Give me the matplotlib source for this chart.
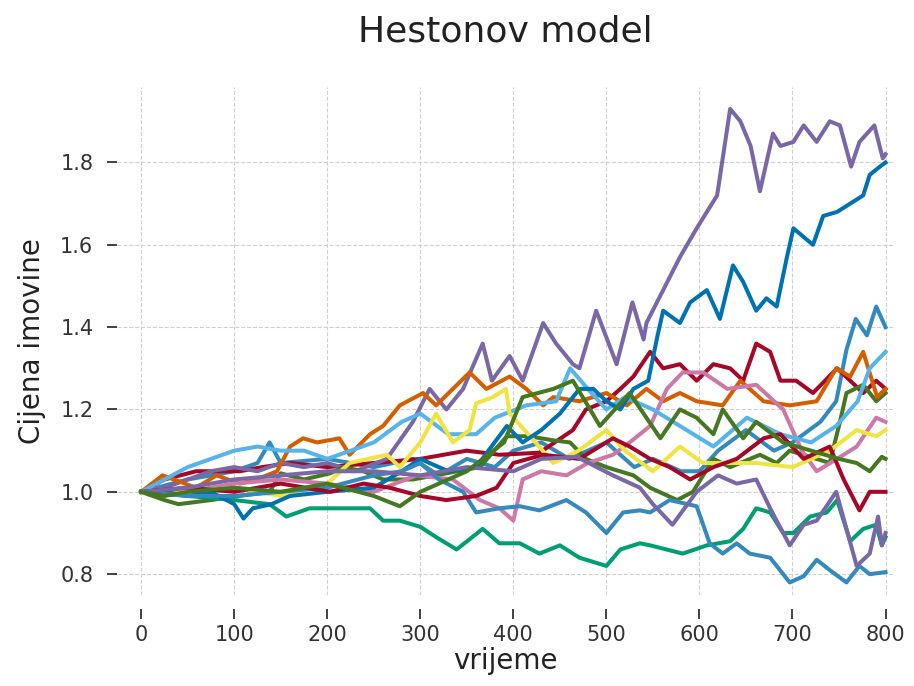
import matplotlib
matplotlib.use("Agg")
from matplotlib import pyplot as plt

# price paths: (time step, asset price)
blue1_t = [0, 50, 100, 125, 138, 150, 200, 250, 292, 320, 350, 380, 400, 430, 460, 500, 530, 550, 580, 600, 620, 650, 680, 700, 730, 747, 758, 768, 780, 790, 800]
blue1_v = [1.0, 1.03, 1.05, 1.07, 1.12, 1.07, 1.08, 1.06, 1.08, 1.04, 1.08, 1.06, 1.10, 1.12, 1.08, 1.12, 1.06, 1.08, 1.05, 1.05, 1.10, 1.15, 1.10, 1.12, 1.17, 1.22, 1.345, 1.42, 1.38, 1.45, 1.40]

red1_t = [0, 25, 59, 89, 106, 130, 160, 200, 250, 300, 350, 385, 428, 464, 478, 500, 515, 529, 547, 561, 579, 597, 615, 633, 647, 661, 676, 687, 704, 722, 748, 776, 790, 800]
red1_v = [1.0, 1.03, 1.05, 1.05, 1.05, 1.06, 1.07, 1.06, 1.07, 1.08, 1.10, 1.09, 1.095, 1.15, 1.20, 1.22, 1.25, 1.28, 1.34, 1.30, 1.31, 1.27, 1.31, 1.30, 1.27, 1.36, 1.34, 1.27, 1.27, 1.24, 1.30, 1.24, 1.27, 1.25]

purple1_t = [0, 25, 50, 75, 100, 125, 150, 175, 200, 230, 264, 292, 310, 328, 346, 367, 377, 396, 410, 432, 446, 464, 471, 489, 511, 528, 540, 543, 561, 579, 597, 619, 633, 644, 655, 665, 672, 679, 687, 701, 712, 726, 740, 751, 763, 772, 788, 797, 800]
purple1_v = [1.0, 1.01, 1.03, 1.05, 1.06, 1.05, 1.07, 1.06, 1.07, 1.05, 1.08, 1.17, 1.25, 1.20, 1.25, 1.36, 1.27, 1.33, 1.27, 1.41, 1.36, 1.31, 1.30, 1.44, 1.31, 1.46, 1.37, 1.41, 1.49, 1.57, 1.64, 1.72, 1.93, 1.90, 1.84, 1.73, 1.80, 1.87, 1.84, 1.85, 1.89, 1.85, 1.90, 1.89, 1.79, 1.85, 1.89, 1.81, 1.82]

greenA_t = [0, 25, 40, 75, 105, 138, 150, 175, 203, 217, 239, 260, 292, 328, 364, 393, 417, 443, 461, 478, 500, 529, 547, 576, 593, 615, 633, 665, 683, 697, 726, 740, 751, 758, 776, 790, 800]
greenA_v = [1.0, 0.98, 0.97, 0.98, 0.99, 1.0, 1.045, 1.03, 1.045, 1.06, 1.05, 1.03, 1.03, 1.045, 1.06, 1.135, 1.135, 1.125, 1.12, 1.08, 1.06, 1.04, 1.01, 0.98, 1.0, 1.08, 1.06, 1.09, 1.07, 1.10, 1.08, 1.07, 1.17, 1.24, 1.26, 1.22, 1.24]

orange_t = [0, 23, 59, 81, 106, 124, 146, 160, 174, 189, 213, 224, 246, 260, 278, 303, 317, 335, 353, 371, 396, 414, 432, 443, 471, 500, 522, 543, 561, 579, 597, 625, 644, 669, 697, 726, 747, 762, 776, 791, 800]
orange_v = [1.0, 1.04, 1.01, 1.04, 1.02, 1.03, 1.05, 1.11, 1.13, 1.12, 1.13, 1.09, 1.14, 1.16, 1.21, 1.24, 1.21, 1.25, 1.29, 1.25, 1.28, 1.25, 1.21, 1.23, 1.22, 1.24, 1.21, 1.25, 1.22, 1.24, 1.22, 1.21, 1.27, 1.22, 1.21, 1.22, 1.30, 1.28, 1.34, 1.23, 1.25]

pink_t = [0, 50, 100, 150, 200, 250, 296, 335, 364, 385, 400, 410, 430, 457, 480, 507, 525, 547, 565, 582, 604, 630, 661, 690, 710, 726, 755, 769, 790, 800]
pink_v = [1.0, 1.0, 1.02, 1.03, 1.02, 1.0, 1.04, 1.03, 0.98, 0.96, 0.93, 1.03, 1.05, 1.04, 1.07, 1.09, 1.12, 1.16, 1.25, 1.29, 1.29, 1.25, 1.26, 1.20, 1.10, 1.05, 1.09, 1.11, 1.18, 1.17]

lightblue_t = [0, 25, 50, 75, 100, 125, 150, 175, 200, 250, 280, 300, 330, 360, 380, 414, 446, 461, 480, 500, 520, 550, 579, 615, 651, 687, 720, 747, 770, 783, 800]
lightblue_v = [1.0, 1.03, 1.06, 1.08, 1.10, 1.11, 1.10, 1.10, 1.08, 1.12, 1.17, 1.19, 1.14, 1.14, 1.18, 1.21, 1.22, 1.30, 1.25, 1.20, 1.23, 1.20, 1.16, 1.11, 1.18, 1.14, 1.12, 1.16, 1.22, 1.30, 1.34]

teal_t = [0, 50, 100, 138, 156, 181, 217, 246, 260, 278, 300, 317, 339, 367, 385, 407, 428, 450, 471, 500, 515, 536, 547, 582, 608, 633, 647, 661, 676, 690, 701, 719, 737, 748, 762, 776, 790, 796, 800]
teal_v = [1.0, 0.99, 0.98, 0.97, 0.94, 0.96, 0.96, 0.96, 0.93, 0.93, 0.915, 0.89, 0.86, 0.91, 0.875, 0.875, 0.85, 0.87, 0.84, 0.82, 0.86, 0.875, 0.87, 0.85, 0.87, 0.88, 0.91, 0.96, 0.95, 0.90, 0.90, 0.94, 0.95, 0.98, 0.88, 0.91, 0.92, 0.87, 0.89]

yellow_t = [0, 25, 50, 100, 150, 200, 224, 264, 278, 300, 317, 335, 353, 360, 378, 392, 396, 420, 443, 470, 500, 520, 550, 579, 604, 630, 661, 700, 740, 769, 790, 800]
yellow_v = [1.0, 1.0, 1.0, 1.01, 0.99, 1.02, 1.07, 1.09, 1.06, 1.12, 1.19, 1.12, 1.15, 1.215, 1.23, 1.25, 1.19, 1.13, 1.07, 1.10, 1.15, 1.10, 1.05, 1.11, 1.07, 1.07, 1.07, 1.06, 1.10, 1.15, 1.135, 1.15]

darkblue_t = [0, 25, 50, 75, 100, 110, 120, 140, 160, 200, 250, 280, 300, 330, 360, 393, 410, 430, 450, 471, 486, 500, 515, 529, 545, 555, 561, 579, 590, 608, 622, 636, 647, 661, 672, 683, 694, 701, 722, 733, 748, 762, 776, 783, 794, 800]
darkblue_v = [1.0, 1.0, 0.99, 1.0, 0.97, 0.935, 0.96, 0.97, 0.99, 1.0, 1.01, 1.05, 1.08, 1.05, 1.06, 1.16, 1.12, 1.15, 1.19, 1.25, 1.25, 1.22, 1.20, 1.25, 1.27, 1.38, 1.44, 1.41, 1.46, 1.49, 1.42, 1.55, 1.51, 1.44, 1.47, 1.45, 1.57, 1.64, 1.60, 1.67, 1.68, 1.70, 1.72, 1.77, 1.79, 1.80]

blue2_t = [0, 50, 100, 150, 200, 250, 280, 300, 320, 346, 360, 385, 407, 428, 457, 478, 500, 518, 536, 547, 568, 597, 611, 625, 640, 654, 676, 697, 712, 726, 740, 758, 772, 783, 800]
blue2_v = [1.0, 0.99, 0.99, 1.0, 1.01, 1.04, 1.05, 1.07, 1.03, 1.0, 0.95, 0.96, 0.965, 0.955, 0.98, 0.95, 0.90, 0.95, 0.955, 0.95, 0.98, 0.965, 0.875, 0.85, 0.875, 0.85, 0.84, 0.78, 0.795, 0.835, 0.81, 0.78, 0.82, 0.80, 0.805]

red2_t = [0, 50, 100, 150, 203, 239, 267, 300, 328, 360, 382, 400, 432, 471, 507, 525, 547, 568, 590, 615, 640, 669, 687, 712, 740, 755, 772, 783, 800]
red2_v = [1.0, 1.01, 1.0, 1.02, 1.0, 1.02, 1.01, 0.99, 0.98, 0.99, 1.01, 1.07, 1.09, 1.08, 1.13, 1.11, 1.08, 1.06, 1.03, 1.06, 1.08, 1.13, 1.14, 1.08, 1.11, 1.03, 0.955, 1.0, 1.0]

purple2_t = [0, 50, 100, 150, 200, 250, 300, 350, 400, 430, 468, 507, 536, 550, 571, 597, 620, 640, 661, 676, 697, 712, 726, 747, 769, 783, 792, 796, 800]
purple2_v = [1.0, 1.01, 1.03, 1.04, 1.05, 1.05, 1.04, 1.06, 1.05, 1.08, 1.085, 1.04, 1.01, 0.97, 0.92, 1.0, 1.04, 1.02, 1.03, 0.96, 0.87, 0.92, 0.93, 1.0, 0.82, 0.85, 0.94, 0.87, 0.90]

greenB_t = [0, 25, 50, 100, 150, 200, 250, 278, 300, 350, 390, 410, 443, 464, 493, 525, 558, 579, 597, 615, 625, 647, 661, 690, 720, 750, 769, 783, 796, 800]
greenB_v = [1.0, 0.99, 1.0, 1.01, 1.0, 1.02, 0.99, 0.965, 1.0, 1.05, 1.12, 1.23, 1.25, 1.27, 1.16, 1.24, 1.13, 1.20, 1.18, 1.14, 1.20, 1.13, 1.17, 1.12, 1.10, 1.08, 1.07, 1.05, 1.085, 1.08]

paths = [
    (blue1_t, blue1_v, '#348ABD'),
    (red1_t, red1_v, '#A60628'),
    (purple1_t, purple1_v, '#7A68A6'),
    (greenA_t, greenA_v, '#467821'),
    (orange_t, orange_v, '#D55E00'),
    (pink_t, pink_v, '#CC79A7'),
    (lightblue_t, lightblue_v, '#56B4E9'),
    (teal_t, teal_v, '#009E73'),
    (yellow_t, yellow_v, '#F0E442'),
    (darkblue_t, darkblue_v, '#0072B2'),
    (blue2_t, blue2_v, '#348ABD'),
    (red2_t, red2_v, '#A60628'),
    (purple2_t, purple2_v, '#7A68A6'),
    (greenB_t, greenB_v, '#467821'),
]

fig = plt.figure(figsize=(9.14, 6.86), dpi=100)
ax = fig.add_axes([0.128, 0.133, 0.849, 0.74])

for t, v, c in paths:
    ax.plot(t, v, color=c, lw=2.9)

ax.set_xlim(-26, 808)
ax.set_ylim(0.75, 1.983)
ax.set_xticks(range(0, 801, 100))
ax.set_yticks([0.8, 1.0, 1.2, 1.4, 1.6, 1.8])

for s in ax.spines.values():
    s.set_visible(False)
ax.spines['bottom'].set_position(('outward', 10))
ax.grid(True, ls='--', color='#d0d0d0', lw=0.8)
ax.set_axisbelow(True)
ax.tick_params(axis='both', labelsize=15, colors='#333333', width=1.3)
ax.tick_params(axis='x', length=7, pad=5)
ax.tick_params(axis='y', length=7, pad=10)

ax.set_title('Hestonov model', fontsize=26, color='#222222', pad=33)
ax.set_xlabel('vrijeme', fontsize=20, color='#222222', labelpad=1)
ax.set_ylabel('Cijena imovine', fontsize=20, color='#222222', labelpad=10)

fig.savefig('out.png', dpi=100)
